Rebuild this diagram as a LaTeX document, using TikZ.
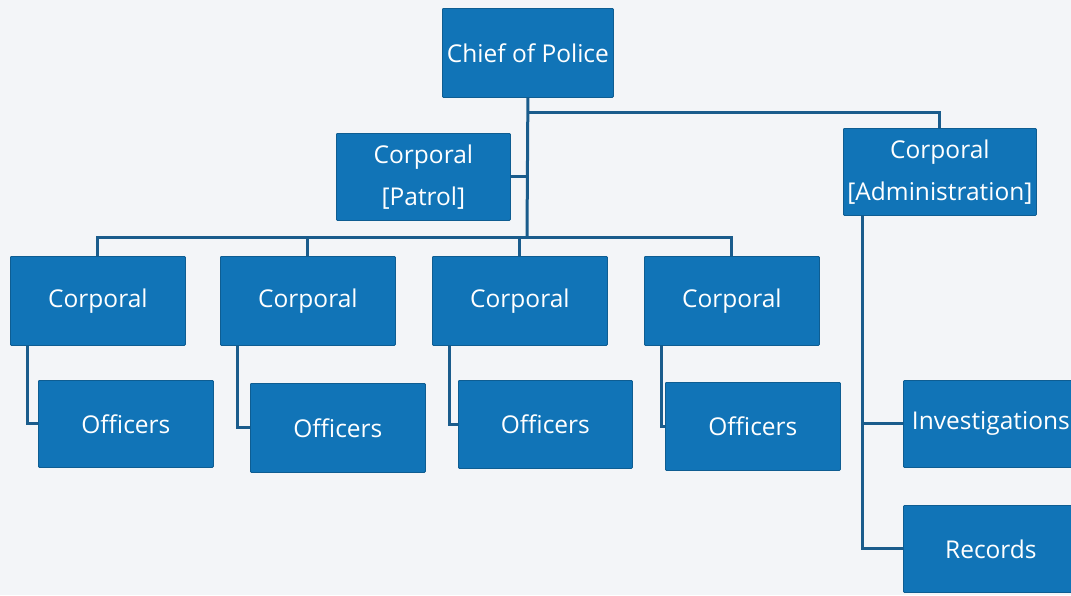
\documentclass[tikz,border=0pt]{standalone}
\usepackage{fontspec}
\setmainfont{Open Sans}
\definecolor{boxblue}{HTML}{1174B7}
\definecolor{lineblue}{HTML}{1A5C8C}
\definecolor{bg}{HTML}{F3F5F8}
\tikzset{
  box/.style={fill=boxblue, draw=boxblue!80!black, line width=0.8pt, text=white, inner sep=0pt, font=\fontsize{24.5}{42}\selectfont, align=center, anchor=north west, rounded corners=1pt},
  conn/.style={draw=lineblue, line width=3pt}
}
\begin{document}
\begin{tikzpicture}[x=1pt,y=-1pt]
\fill[bg] (0,0) rectangle (1071,595);
\useasboundingbox (0,0) rectangle (1071,595);
% nodes
\node[box, minimum width=171pt, minimum height=89pt] (chief) at (442,8) {Chief of Police};
\node[box, minimum width=174pt, minimum height=87pt] (patrol) at (336,133) {Corporal\\{[}Patrol{]}};
\node[box, minimum width=193pt, minimum height=87pt] (admin) at (843,128) {Corporal\\{[}Administration{]}};
\node[box, minimum width=175pt, minimum height=89pt] (c1) at (10,256) {Corporal};
\node[box, minimum width=175pt, minimum height=89pt] (c2) at (220,256) {Corporal};
\node[box, minimum width=175pt, minimum height=89pt] (c3) at (432,256) {Corporal};
\node[box, minimum width=175pt, minimum height=89pt] (c4) at (644,256) {Corporal};
\node[box, minimum width=175pt, minimum height=87pt] (o1) at (38,380) {Officers};
\node[box, minimum width=175pt, minimum height=89pt] (o2) at (250,383) {Officers};
\node[box, minimum width=174pt, minimum height=88pt] (o3) at (458,380) {Officers};
\node[box, minimum width=175pt, minimum height=88pt] (o4) at (665,382) {Officers};
\node[box, minimum width=175pt, minimum height=87pt] (inv) at (903,380) {Investigations};
\node[box, minimum width=175pt, minimum height=87pt] (rec) at (903,505) {Records};
% connector coordinates
\coordinate (bar) at (527,237);
\coordinate (top) at (527,112);
% connectors
\draw[conn] (chief.south) -- (bar);
\draw[conn] (top) -| (admin.north);
\draw[conn] (patrol.east) -- (patrol.east -| top);
\draw[conn] (c1.north) |- (bar) -| (c4.north);
\draw[conn] (c2.north) -- (c2.north |- bar);
\draw[conn] (c3.north) -- (c3.north |- bar);
\draw[conn] ([xshift=17pt]c1.south west) |- (o1.west);
\draw[conn] ([xshift=17pt]c2.south west) |- (o2.west);
\draw[conn] ([xshift=17pt]c3.south west) |- (o3.west);
\draw[conn] ([xshift=17pt]c4.south west) |- (o4.west);
\draw[conn] ([xshift=19pt]admin.south west) |- (inv.west);
\draw[conn] ([xshift=19pt]admin.south west) |- (rec.west);
\end{tikzpicture}
\end{document}
